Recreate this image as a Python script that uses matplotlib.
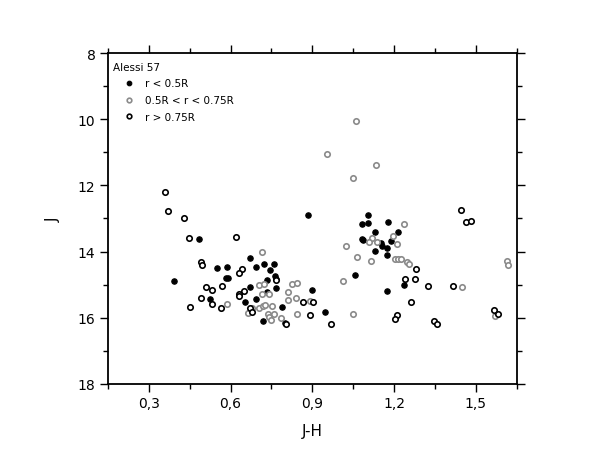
import matplotlib
matplotlib.use("Agg")
import matplotlib.pyplot as plt
from matplotlib.ticker import MultipleLocator, FuncFormatter

# ---- data (J-H, J) ----
inner_jh = [0.483, 0.391, 0.885, 1.105, 1.082, 1.104, 1.178, 1.215, 1.130, 1.082,
            1.087, 1.189, 1.152, 1.157, 1.175, 1.130, 1.173, 1.058, 1.236, 1.173,
            0.897, 0.946, 0.790, 0.799, 0.720, 0.673, 0.692, 0.722, 0.758, 0.550,
            0.585, 0.746, 0.582, 0.590, 0.764, 0.768, 0.733, 0.673, 0.766, 0.734,
            0.692, 0.523, 0.654]
inner_j = [13.62, 14.89, 12.89, 12.89, 13.17, 13.15, 13.11, 13.42, 13.42, 13.62,
           13.65, 13.68, 13.75, 13.82, 13.88, 13.99, 14.09, 14.71, 15.01, 15.19,
           15.17, 15.83, 15.68, 16.16, 16.10, 14.19, 14.47, 14.37, 14.38, 14.50,
           14.48, 14.56, 14.81, 14.81, 14.74, 14.84, 14.86, 15.08, 15.11, 15.23,
           15.42, 15.42, 15.51]

mid_jh = [1.060, 1.132, 1.048, 0.954, 1.236, 1.196, 1.119, 1.109, 1.136, 1.210,
          1.023, 1.064, 1.114, 1.203, 1.216, 1.225, 1.246, 1.254, 1.014, 1.048,
          0.717, 0.704, 0.722, 0.825, 0.845, 0.810, 0.741, 0.716, 0.812, 0.841,
          0.891, 0.587, 0.703, 0.718, 0.728, 0.752, 0.680, 0.738, 0.760, 0.742,
          0.786, 0.750, 0.842, 1.614, 1.617, 1.449, 1.571, 0.664]
mid_j = [10.05, 11.38, 11.77, 11.05, 13.18, 13.54, 13.59, 13.72, 13.70, 13.77,
         13.84, 14.16, 14.29, 14.23, 14.23, 14.23, 14.31, 14.37, 14.89, 15.89,
         14.00, 15.02, 14.99, 14.99, 14.96, 15.21, 15.28, 15.29, 15.46, 15.41,
         15.48, 15.58, 15.71, 15.64, 15.62, 15.63, 15.71, 15.90, 15.89, 15.99,
         16.01, 16.06, 15.89, 14.27, 14.40, 15.06, 15.96, 15.86]

outer_jh = [0.358, 0.370, 0.429, 0.447, 0.621, 0.490, 0.496, 0.640, 0.631, 0.508,
            0.533, 0.568, 0.648, 0.630, 0.629, 0.493, 0.533, 0.452, 0.564, 0.670,
            0.678, 0.766, 0.866, 0.901, 0.891, 0.803, 0.967, 1.240, 1.277, 1.282,
            1.323, 1.415, 1.262, 1.210, 1.203, 1.347, 1.356, 1.446, 1.463, 1.482,
            1.565, 1.583]
outer_j = [12.20, 12.76, 12.99, 13.59, 13.57, 14.32, 14.42, 14.54, 14.65, 15.08,
           15.15, 15.05, 15.19, 15.28, 15.35, 15.40, 15.59, 15.68, 15.71, 15.71,
           15.83, 14.86, 15.51, 15.52, 15.92, 16.20, 16.20, 14.84, 14.84, 14.53,
           15.05, 15.05, 15.52, 15.92, 16.04, 16.09, 16.20, 12.73, 13.11, 13.08,
           15.76, 15.89]

labels = ["r < 0.5R", "0.5R < r < 0.75R", "r > 0.75R"]
title = "Alessi 57"

fig = plt.figure(figsize=(5.99, 4.64), dpi=100)
ax = fig.add_axes([0.1803, 0.1703, 0.6823, 0.7133])

ms = 3.9
ax.plot(inner_jh, inner_j, 'o', ms=ms, mfc='black', mec='black', mew=0.8, label=labels[0], ls='none')
ax.plot(mid_jh, mid_j, 'o', ms=ms, mfc='white', mec='#8a8a8a', mew=1.2, label=labels[1], ls='none')
ax.plot(outer_jh, outer_j, 'o', ms=ms, mfc='white', mec='black', mew=1.2, label=labels[2], ls='none')

ax.set_xlim(0.15, 1.65)
ax.set_ylim(18, 8)
ax.xaxis.set_major_locator(MultipleLocator(0.3))
ax.xaxis.set_minor_locator(MultipleLocator(0.15))
ax.yaxis.set_major_locator(MultipleLocator(2))
ax.yaxis.set_minor_locator(MultipleLocator(1))
ax.xaxis.set_major_formatter(FuncFormatter(lambda v, p: f"{v:.1f}".replace('.', ',')))
ax.yaxis.set_major_formatter(FuncFormatter(lambda v, p: f"{v:.0f}"))

ax.tick_params(which='both', direction='out', top=True, right=True, width=1.0, colors='black', labelsize=10)
ax.tick_params(which='major', length=6, pad=3)
ax.tick_params(which='minor', length=3.5)
for s in ax.spines.values():
    s.set_linewidth(1.3)

ax.set_xlabel("J-H", fontsize=11, labelpad=9)
ax.set_ylabel("J", fontsize=11, labelpad=12)

leg = ax.legend(title=title, loc='upper left', bbox_to_anchor=(0, 0.99), frameon=False,
                fontsize=7.5, title_fontsize=7.5, alignment='left', markerscale=0.85,
                handlelength=3.1, handletextpad=0.0, labelspacing=0.65,
                borderaxespad=0.0, borderpad=0.5, numpoints=1)
leg._legend_box.sep = 5

fig.savefig("out.png", dpi=100)
